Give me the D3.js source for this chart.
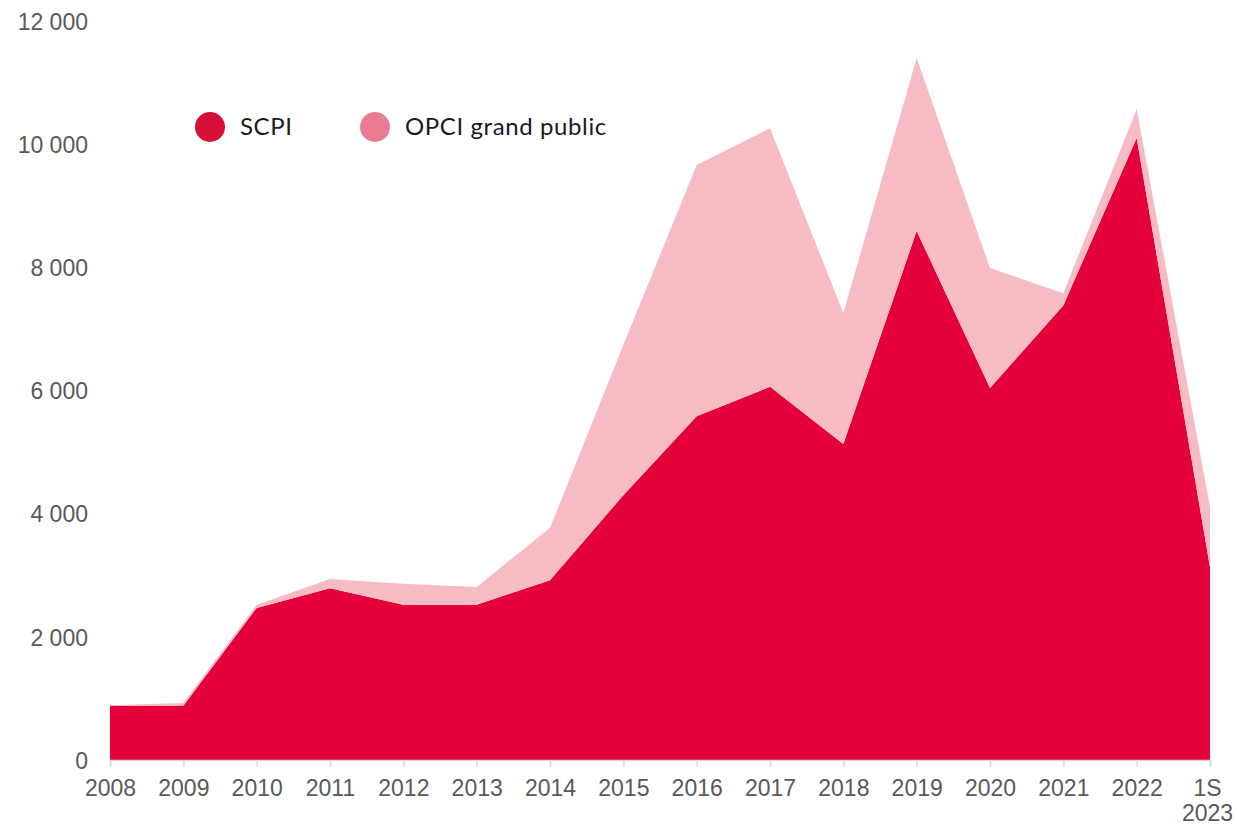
<!doctype html>
<html lang="fr">
  <head>
    <meta charset="utf-8">
    <title>Collecte SCPI et OPCI grand public</title>
    <script src="https://d3js.org/d3.v7.min.js"></script>
    <style>
      body { margin: 0; background: #fff; }
      .tick text { font-family: "Liberation Sans", Arial, sans-serif; fill: #595959; }
    </style>
  </head>

  <body>
    <svg width="1237" height="826"></svg>

    <script>
      var years = ["2008", "2009", "2010", "2011", "2012", "2013", "2014", "2015",
                   "2016", "2017", "2018", "2019", "2020", "2021", "2022", "1S 2023"];
      var scpi = [880, 880, 2470, 2790, 2520, 2520, 2920, 4300, 5580, 6060, 5130, 8590, 6040, 7380, 10100, 3130];
      var opci = [10, 45, 50, 150, 340, 290, 850, 2440, 4080, 4200, 2130, 2810, 1950, 200, 470, 980];
      var yTicks = [0, 2000, 4000, 6000, 8000, 10000, 12000];

      var series = ["scpi", "opci"];
      var labels = { scpi: "SCPI", opci: "OPCI grand public" };
      var areaColors = { scpi: "#E4003A", opci: "#F7BCC3" };
      var dotColors = { scpi: "#D50F35", opci: "#E97C90" };

      var table = years.map(function(y, i) {
        return { year: y, scpi: scpi[i], opci: opci[i] };
      });

      var svg = d3.select("svg");
      var mLeft = 110, mRight = 1210, mTop = 21, mBottom = 760;

      var x = d3.scalePoint().domain(years).range([mLeft, mRight]);
      var y = d3.scaleLinear().domain([0, 12000]).range([mBottom, mTop]);

      var stacked = d3.stack().keys(series)(table);

      var area = d3.area()
          .x(function(d) { return x(d.data.year); })
          .y0(function(d) { return y(d[0]); })
          .y1(function(d) { return y(d[1]); });

      svg.selectAll("path.layer")
          .data(stacked)
        .enter().append("path")
          .attr("class", "layer")
          .attr("fill", function(d) { return areaColors[d.key]; })
          .attr("d", area);

      // y axis: labels only
      var fmt = function(v) { return d3.format(",")(v).replace(/,/g, " "); };
      var yAxis = svg.append("g")
          .attr("transform", "translate(" + (mLeft - 22) + ",0)")
          .call(d3.axisLeft(y).tickValues(yTicks).tickFormat(fmt).tickSize(0).tickPadding(0));
      yAxis.select(".domain").remove();
      yAxis.selectAll("text").style("font-size", "23px").attr("dy", "0.36em");

      // x axis, "1S 2023" wraps on two lines
      var xAxis = svg.append("g")
          .attr("transform", "translate(0," + mBottom + ")")
          .call(d3.axisBottom(x).tickSize(7).tickPadding(13));
      xAxis.select(".domain").attr("stroke", "#d9d9d9").attr("stroke-width", 1.5);
      xAxis.selectAll(".tick line").attr("stroke", "#d9d9d9").attr("stroke-width", 1.5);
      xAxis.selectAll("text")
          .style("font-size", "23px")
          .attr("dy", null)
          .text(null)
          .each(function(d) {
            var t = d3.select(this);
            var parts = d.split(" ");
            var shift = parts.length > 1 ? -3 : 0;   // keep the last label inside the frame
            parts.forEach(function(p, i) {
              t.append("tspan")
                  .attr("x", shift)
                  .attr("dy", i === 0 ? "0.71em" : "1.08em")
                  .text(p);
            });
          });

      // legend
      var legendX = [210, 375];
      var legend = svg.selectAll("g.legend")
          .data(series)
        .enter().append("g")
          .attr("class", "legend")
          .attr("transform", function(d, i) { return "translate(" + legendX[i] + ",127)"; });
      legend.append("circle")
          .attr("r", 15)
          .attr("fill", function(d) { return dotColors[d]; });
      legend.append("text")
          .attr("x", 30)
          .attr("dy", "0.35em")
          .style("font-family", "Lato, 'Noto Sans', sans-serif")
          .style("font-size", "24px")
          .style("letter-spacing", "0.6px")
          .style("fill", "#1a1a1a")
          .text(function(d) { return labels[d]; });
    </script>
  </body>
</html>
